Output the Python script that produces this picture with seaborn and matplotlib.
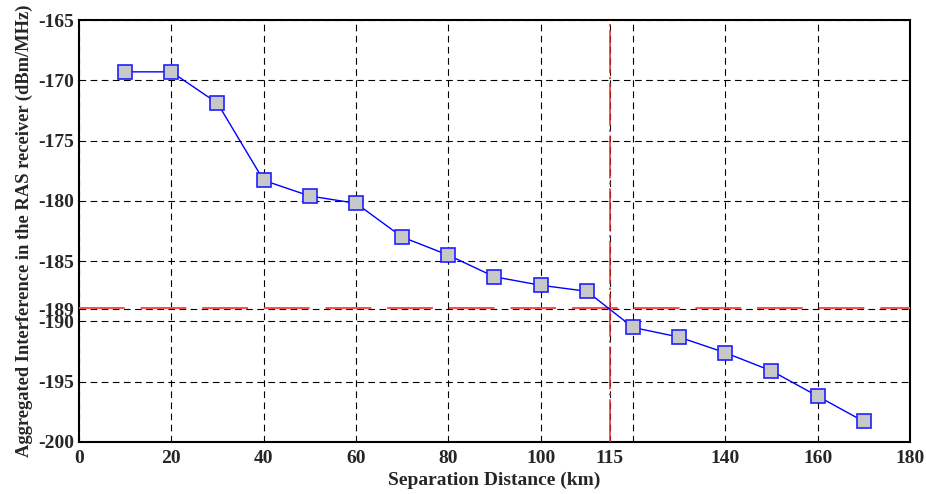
import matplotlib
matplotlib.use('Agg')
import matplotlib.pyplot as plt
import matplotlib.ticker as mticker
import numpy as np
import pandas as pd
import seaborn as sns

DISTANCE_KM = [10, 20, 30, 40, 50, 60, 70, 80, 90, 100, 110, 120, 130, 140, 150, 160, 170]
INTERFERENCE_DBM = [-169.3, -169.3, -171.9, -178.3, -179.6, -180.2, -183.0, -184.5, -186.3,
                    -187.0, -187.5, -190.5, -191.3, -192.6, -194.1, -196.2, -198.3]

THRESHOLD_DBM = -189
THRESHOLD_KM = 115

X_TICKS = [0, 20, 40, 60, 80, 100, 115, 120, 140, 160, 180]
X_TICK_LABELS = ['0', '20', '40', '60', '80', '100', '115', '', '140', '160', '180']
Y_TICKS = [-200, -195, -190, -189, -185, -180, -175, -170, -165]


def main() -> None:
    sns.set_style('white')
    plt.rcParams['font.family'] = ['Liberation Serif', 'DejaVu Serif']
    plt.rcParams['font.weight'] = 'bold'

    df = pd.DataFrame({'dist': DISTANCE_KM, 'intf': INTERFERENCE_DBM})

    fig = plt.figure(figsize=(9.26, 4.94), dpi=100)
    ax = fig.add_axes([0.0853, 0.1053, 0.8974, 0.8542])

    sns.lineplot(
        data=df, x='dist', y='intf', ax=ax,
        color='#0000ff', linewidth=1.0,
        marker='s', markersize=9.5,
        markerfacecolor='#c8c8c8', markeredgecolor='#2020ff', markeredgewidth=1.2,
        zorder=5,
    )

    ax.axhline(THRESHOLD_DBM + 0.08, color='#ff4a4a', linewidth=1.4,
               dashes=(23.5, 8.2), zorder=3)
    ax.axvline(THRESHOLD_KM, color='#e02828', linewidth=1.1,
               dashes=(28, 2.5, 1.5, 2.5), zorder=3)

    ax.set(xlim=(0, 180), ylim=(-200, -165))
    ax.xaxis.set_major_locator(mticker.FixedLocator(X_TICKS))
    ax.set_xticklabels(X_TICK_LABELS)
    ax.yaxis.set_major_locator(mticker.FixedLocator(Y_TICKS))
    ax.set_yticklabels([str(t) for t in Y_TICKS])

    ax.grid(True, color='black', linestyle=(0, (6, 4)), linewidth=0.8)
    ax.tick_params(axis='x', pad=6)
    ax.tick_params(direction='in', length=4, labelsize=14, width=1)
    for lab in ax.get_xticklabels() + ax.get_yticklabels():
        lab.set_fontweight('bold')
    for sp in ax.spines.values():
        sp.set_color('black')
        sp.set_linewidth(1.5)

    ax.set_xlabel('Separation Distance (km)', fontsize=14, fontweight='bold', labelpad=3)
    ax.set_ylabel('Aggregated Interference in the RAS receiver (dBm/MHz)',
                  fontsize=13.3, fontweight='bold', labelpad=4)

    fig.savefig('out.png', dpi=100)


if __name__ == '__main__':
    main()
